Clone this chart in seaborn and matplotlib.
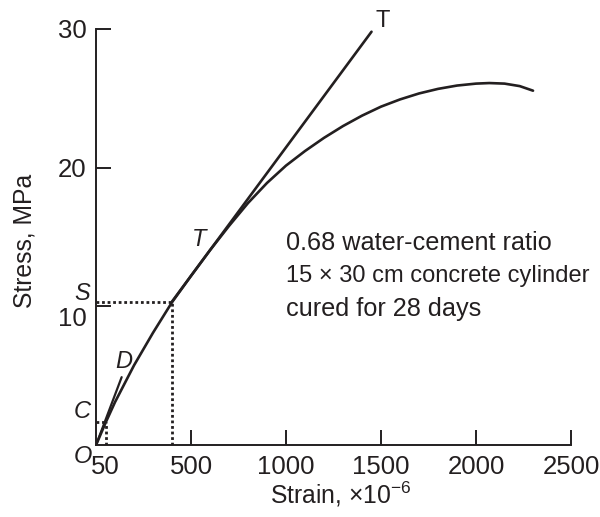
import matplotlib
matplotlib.use("Agg")
import matplotlib.pyplot as plt
import matplotlib.transforms as mtransforms
import seaborn as sns
import pandas as pd

# Stress-strain curve of the concrete cylinder (strain in microstrain, stress in MPa)
strain = [0, 50, 100, 200, 300, 400, 500, 600, 700, 800, 900, 1000, 1100, 1200,
          1300, 1400, 1500, 1600, 1700, 1800, 1900, 2000, 2070, 2150, 2230, 2300]
stress = [0, 1.6, 3.1, 5.75, 8.1, 10.3, 12.2, 14.05, 15.8, 17.45, 18.9, 20.15, 21.2, 22.15,
          23.0, 23.75, 24.4, 24.92, 25.35, 25.68, 25.92, 26.06, 26.1, 26.06, 25.88, 25.55]

# Tangent modulus line T-T and initial tangent O-D
tangent_strain = [400, 1450]
tangent_stress = [10.35, 29.8]
initial_strain = [0, 135]
initial_stress = [0, 4.9]

# Reference points C and S
c_strain, c_stress = 50, 1.65
s_strain, s_stress = 400, 10.35

x_ticks = [50, 500, 1000, 1500, 2000, 2500]
x_tick_labels = ["50", "500", "1000", "1500", "2000", "2500"]
y_ticks = [10, 20, 30]

note_lines = ["0.68 water-cement ratio", "15 \u00d7 30 cm concrete cylinder", "cured for 28 days"]
note_sizes = [18.2, 17.0, 18.2]

ink = "#231f20"

sns.set_theme(style="ticks")
plt.rcParams["font.family"] = ["Liberation Sans", "DejaVu Sans"]
plt.rcParams["mathtext.fontset"] = "custom"
plt.rcParams["mathtext.rm"] = "Liberation Sans"
plt.rcParams["mathtext.it"] = "Liberation Sans:italic"

fig = plt.figure(figsize=(6.0, 5.17), dpi=100)
ax = fig.add_axes([0.16, 0.139, 0.7917, 0.805])

curve = pd.DataFrame({"strain": strain, "stress": stress})
sns.lineplot(data=curve, x="strain", y="stress", ax=ax, color=ink, lw=1.9,
             sort=False, estimator=None)

tangent = pd.DataFrame({"strain": tangent_strain, "stress": tangent_stress})
sns.lineplot(data=tangent, x="strain", y="stress", ax=ax, color=ink, lw=1.9,
             sort=False, estimator=None)

initial = pd.DataFrame({"strain": initial_strain, "stress": initial_stress})
sns.lineplot(data=initial, x="strain", y="stress", ax=ax, color=ink, lw=1.6,
             sort=False, estimator=None)

# Dotted guides to C and S
dot = dict(color=ink, lw=2.0, linestyle=(0, (1, 1)))
ax.plot([0, s_strain], [s_stress, s_stress], **dot)
ax.plot([s_strain, s_strain], [0, s_stress], **dot)
ax.plot([0, c_strain], [c_stress, c_stress], **dot)
ax.plot([c_strain, c_strain], [0, c_stress], **dot)

ax.set_xlim(0, 2500)
ax.set_ylim(0, 30)
ax.set_xticks(x_ticks)
ax.set_xticklabels(x_tick_labels)
ax.set_yticks(y_ticks)
ax.tick_params(direction="in", length=11, width=1.4, color=ink, labelcolor=ink,
               labelsize=18.5, pad=7)
ax.xaxis.get_major_ticks()[0].tick1line.set_visible(False)

# Nudge the "10" label down so it clears the S marker
lbl10 = ax.yaxis.get_major_ticks()[0].label1
lbl10.set_transform(lbl10.get_transform() +
                    mtransforms.ScaledTranslation(0, -10 / 100, fig.dpi_scale_trans))

for side in ("top", "right"):
    ax.spines[side].set_visible(False)
for side in ("left", "bottom"):
    ax.spines[side].set_linewidth(1.4)
    ax.spines[side].set_color(ink)

ax.set_xlabel(r"Strain, $\times$10$^{-6}$", fontsize=17.8, color=ink, labelpad=0.5)
ax.xaxis.label.set_x(0.516)
ax.set_ylabel("Stress, MPa", fontsize=17.8, color=ink, labelpad=15)
ax.yaxis.label.set_y(0.49)

# Point labels
lab = dict(fontsize=17, color=ink, style="italic", ha="center", va="center")
ax.text(-70, -0.8, "O", **lab)
ax.text(-75, 2.4, "C", **lab)
ax.text(-75, 10.9, "S", **lab)
ax.text(145, 6.0, "D", **lab)
ax.text(540, 14.8, "T", **lab)
ax.text(1510, 30.6, "T", fontsize=17, color=ink, ha="center", va="center")

# Specimen note, one line at a time
for i, (line, size) in enumerate(zip(note_lines, note_sizes)):
    ax.text(1000, 14.57 - i * 2.37, line, fontsize=size, color=ink,
            ha="left", va="center")

fig.savefig("out.png", dpi=100, facecolor="white")
